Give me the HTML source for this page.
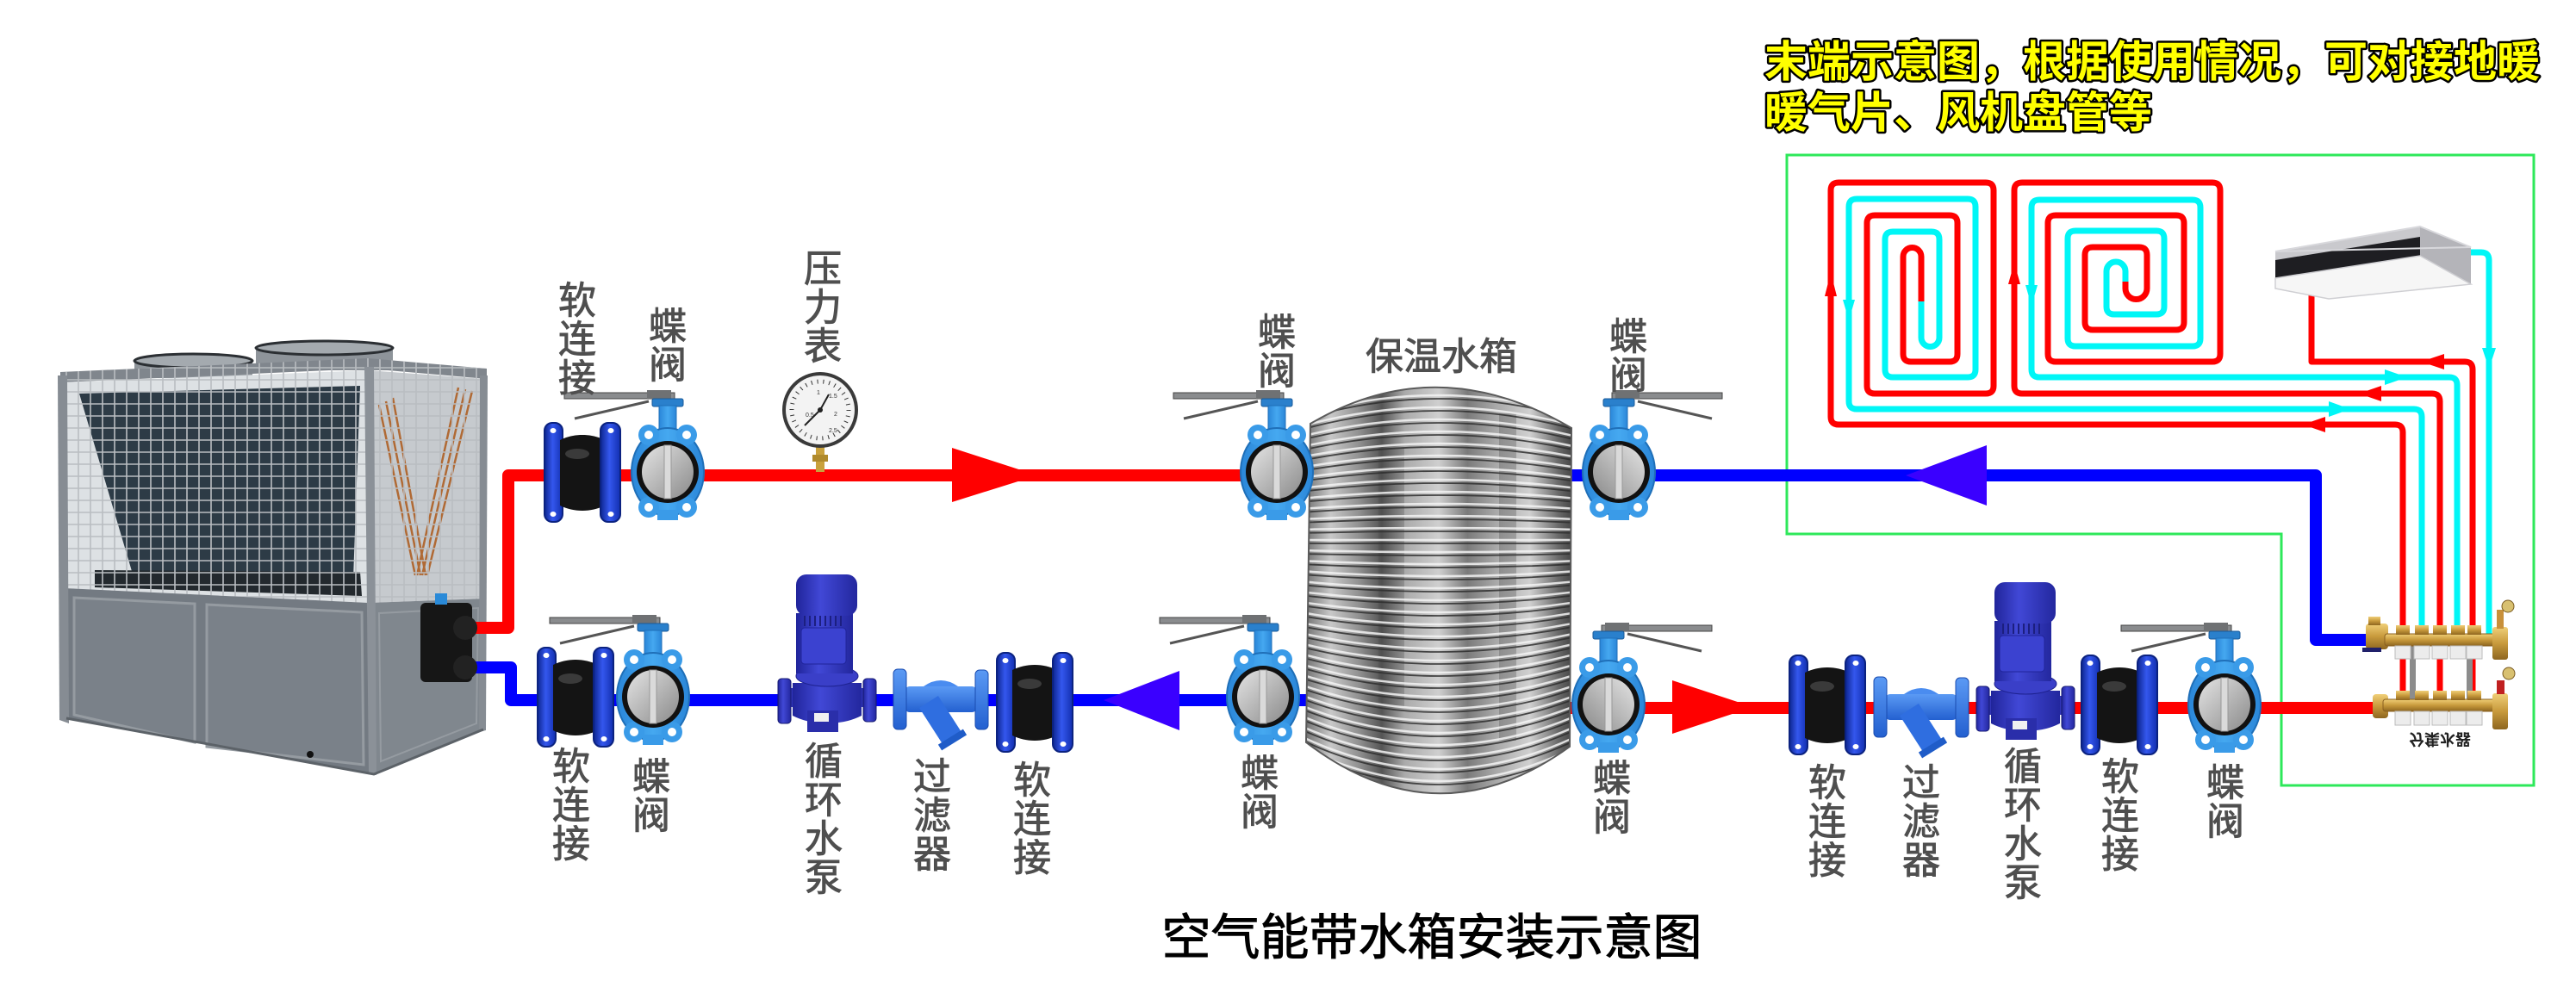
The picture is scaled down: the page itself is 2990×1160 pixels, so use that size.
<!DOCTYPE html>
<html><head><meta charset="utf-8">
<style>
html,body{margin:0;padding:0;background:#fff;}
svg{display:block;}
text{font-family:"Liberation Sans","Noto Sans CJK SC",sans-serif;}
</style></head><body>
<svg width="2990" height="1160" viewBox="0 0 2990 1160" xmlns="http://www.w3.org/2000/svg">
<defs>
 <linearGradient id="disc" x1="0" y1="0" x2="1" y2="1"><stop offset="0" stop-color="#e4e4e4"/><stop offset="1" stop-color="#8a8a8a"/></linearGradient>
 <linearGradient id="flg" x1="0" x2="1"><stop offset="0" stop-color="#0d2690"/><stop offset=".45" stop-color="#3457ee"/><stop offset="1" stop-color="#122fb0"/></linearGradient>
 <linearGradient id="pumpg" x1="0" x2="1"><stop offset="0" stop-color="#20249a"/><stop offset=".4" stop-color="#4148d6"/><stop offset="1" stop-color="#23279e"/></linearGradient>
 <linearGradient id="stg" x1="0" x2="0" y1="0" y2="1"><stop offset="0" stop-color="#5b9af4"/><stop offset="1" stop-color="#2360d0"/></linearGradient>
 <linearGradient id="brass" x1="0" x2="0" y1="0" y2="1"><stop offset="0" stop-color="#f0cf78"/><stop offset=".5" stop-color="#c89a3c"/><stop offset="1" stop-color="#8e6620"/></linearGradient>
 <linearGradient id="vb" x1="0" x2="1"><stop offset="0" stop-color="#2a86d8"/><stop offset=".5" stop-color="#45a8f0"/><stop offset="1" stop-color="#2a86d8"/></linearGradient>
 <linearGradient id="tankg" x1="0" x2="1">
  <stop offset="0" stop-color="#3a3a3a"/><stop offset=".04" stop-color="#7a7a7a"/><stop offset=".12" stop-color="#c8c8c8"/>
  <stop offset=".22" stop-color="#909090"/><stop offset=".3" stop-color="#555555"/><stop offset=".38" stop-color="#aaaaaa"/>
  <stop offset=".5" stop-color="#cfcfcf"/><stop offset=".6" stop-color="#7a7a7a"/><stop offset=".7" stop-color="#a8a8a8"/>
  <stop offset=".82" stop-color="#d0d0d0"/><stop offset=".92" stop-color="#6a6a6a"/><stop offset="1" stop-color="#2e2e2e"/>
 </linearGradient>
 <pattern id="mesh" width="14" height="14" patternUnits="userSpaceOnUse"><path d="M0 7H14M7 0V14" stroke="#b9bdc1" stroke-width="1.6" fill="none"/></pattern>
 <clipPath id="tankclip"><path d="M1521 492 Q1668 405 1824 497 L1822 867 Q1668 978 1516 862 Z"/></clipPath>

 <g id="bv">
  <rect x="-120" y="-96" width="128" height="7" fill="#8a8c8e" stroke="#444" stroke-width="1"/>
  <line x1="-108" y1="-66" x2="-22" y2="-86" stroke="#555" stroke-width="3"/>
  <rect x="-24" y="-99" width="28" height="10" fill="#6f7173"/>
  <rect x="-18" y="-89" width="36" height="9" rx="2" fill="#2a80cc" stroke="#1a5a99"/>
  <rect x="-10" y="-81" width="20" height="32" fill="url(#vb)" stroke="#1f6fb8"/>
  <ellipse cx="0" cy="-4" rx="42" ry="51" fill="url(#vb)" stroke="#1f6fb8" stroke-width="2"/>
  <circle cx="-22" cy="-47" r="12" fill="#3a9be8"/><circle cx="22" cy="-47" r="12" fill="#3a9be8"/>
  <circle cx="-22" cy="37" r="12" fill="#3a9be8"/><circle cx="22" cy="37" r="12" fill="#3a9be8"/>
  <circle cx="-22" cy="-47" r="5" fill="#fff"/><circle cx="22" cy="-47" r="5" fill="#fff"/>
  <circle cx="-22" cy="37" r="5" fill="#fff"/><circle cx="22" cy="37" r="5" fill="#fff"/>
  <rect x="-12" y="40" width="24" height="12" fill="#3a9be8"/>
  <circle cx="0" cy="-4" r="36" fill="#111"/>
  <ellipse cx="0" cy="-4" rx="30" ry="31" fill="url(#disc)"/>
  <rect x="-4" y="-35" width="8" height="62" fill="#dadada" stroke="#999"/>
 </g>

 <g id="sc">
  <rect x="-44" y="-58" width="21" height="115" rx="9" fill="url(#flg)" stroke="#0b2280" stroke-width="2"/>
  <path d="M-26 -38 C-10 -46 10 -46 26 -38 L26 38 C10 46 -10 46 -26 38 Z" fill="#141414"/>
  <ellipse cx="-6" cy="-22" rx="14" ry="6" fill="#5a5a5a" opacity=".55"/>
  <rect x="21" y="-58" width="23" height="115" rx="9" fill="url(#flg)" stroke="#0b2280" stroke-width="2"/>
  <ellipse cx="-34" cy="-49" rx="3.5" ry="3" fill="#fff"/><ellipse cx="33" cy="-49" rx="3.5" ry="3" fill="#fff"/>
  <ellipse cx="-34" cy="48" rx="3.5" ry="3" fill="#fff"/><ellipse cx="33" cy="48" rx="3.5" ry="3" fill="#fff"/>
 </g>

 <g id="pump">
  <rect x="-45" y="-14" width="90" height="22" fill="#3034b8"/>
  <rect x="-57" y="-25" width="15" height="52" rx="4" fill="url(#pumpg)" stroke="#161a70"/>
  <rect x="42" y="-25" width="15" height="50" rx="4" fill="url(#pumpg)" stroke="#161a70"/>
  <path d="M-40 -20 H40 V18 Q20 28 0 26 Q-20 28 -40 18 Z" fill="url(#pumpg)"/>
  <rect x="-23" y="12" width="36" height="25" fill="#2a2eaa"/>
  <rect x="-15" y="15" width="17" height="10" fill="#f0f0f0"/>
  <ellipse cx="0" cy="-28" rx="36" ry="12" fill="#3a3fc8" stroke="#1e2290"/>
  <rect x="-36" y="-101" width="66" height="70" fill="url(#pumpg)"/>
  <path d="M-26 -98V-86M-20 -98V-86M-14 -98V-86M-8 -98V-86M-2 -98V-86M4 -98V-86M10 -98V-86M16 -98V-86" stroke="#1c1f80" stroke-width="2"/>
  <rect x="-30" y="-84" width="52" height="42" rx="4" fill="#3b42d0" stroke="#20249a"/>
  <rect x="-36" y="-146" width="71" height="48" rx="12" fill="url(#pumpg)"/>
 </g>

 <g id="st">
  <rect x="-42" y="-16" width="84" height="30" rx="6" fill="url(#stg)"/>
  <path d="M-20 -16 Q0 -30 20 -16 Z" fill="#4a8cf0"/>
  <line x1="-14" y1="2" x2="13" y2="44" stroke="#2f6ee0" stroke-width="26"/>
  <line x1="28" y1="37" x2="-1" y2="55" stroke="#1f5cc8" stroke-width="8"/>
  <rect x="-55" y="-36" width="15" height="70" rx="5" fill="url(#stg)" stroke="#1a4cb0"/>
  <rect x="40" y="-35" width="15" height="69" rx="5" fill="url(#stg)" stroke="#1a4cb0"/>
 </g>

 <g id="tl" fill="none">
  <path d="M1510 483Q1670 435 1830 483"/>
  <path d="M1510 495Q1670 451 1830 495"/><path d="M1510 507Q1670 467 1830 507"/><path d="M1510 519Q1670 483 1830 519"/>
  <path d="M1510 531Q1670 499 1830 531"/><path d="M1510 543Q1670 515 1830 543"/><path d="M1510 555Q1670 531 1830 555"/>
  <path d="M1510 567Q1670 547 1830 567"/><path d="M1510 579Q1670 563 1830 579"/><path d="M1510 591Q1670 579 1830 591"/>
  <path d="M1510 603Q1670 595 1830 603"/><path d="M1510 615Q1670 611 1830 615"/><path d="M1510 627Q1670 627 1830 627"/>
  <path d="M1510 639Q1670 643 1830 639"/><path d="M1510 651Q1670 659 1830 651"/><path d="M1510 663Q1670 675 1830 663"/>
  <path d="M1510 675Q1670 691 1830 675"/><path d="M1510 687Q1670 707 1830 687"/><path d="M1510 699Q1670 723 1830 699"/>
  <path d="M1510 711Q1670 739 1830 711"/><path d="M1510 723Q1670 755 1830 723"/><path d="M1510 735Q1670 771 1830 735"/>
  <path d="M1510 747Q1670 787 1830 747"/><path d="M1510 759Q1670 803 1830 759"/><path d="M1510 771Q1670 819 1830 771"/>
  <path d="M1510 783Q1670 835 1830 783"/><path d="M1510 795Q1670 851 1830 795"/><path d="M1510 807Q1670 867 1830 807"/>
  <path d="M1510 819Q1670 883 1830 819"/><path d="M1510 831Q1670 899 1830 831"/><path d="M1510 843Q1670 915 1830 843"/>
  <path d="M1510 855Q1670 931 1830 855"/><path d="M1510 867Q1670 947 1830 867"/>
 </g>
</defs>

<rect width="2990" height="1160" fill="#fff"/>

<!-- ===== HEAT PUMP UNIT ===== -->
<g>
 <rect x="156" y="419" width="137" height="20" fill="#8e949a"/>
 <ellipse cx="224.5" cy="419" rx="68.5" ry="8" fill="#a4aaaf" stroke="#2b2f33" stroke-width="3"/>
 <rect x="297" y="404" width="159" height="26" fill="#8e949a"/>
 <ellipse cx="376.5" cy="404" rx="79.5" ry="8" fill="#a4aaaf" stroke="#2b2f33" stroke-width="3"/>
 <polygon points="70,432 427,416 565,428 565,440 427,428 70,444" fill="#80868d"/>
 <polygon points="72,444 427,430 428,700 75,683" fill="#dde1e4"/>
 <polygon points="92,457 418,448 410,672 155,670" fill="#2d3b46"/>
 <polygon points="110,662 418,664 420,692 110,682" fill="#23292e"/>
 <polygon points="427,430 563,440 563,695 428,700" fill="#c6cace"/>
 <path d="M440 470L482 668M448 466L488 668M456 462L494 668M540 452L490 668M548 454L496 668M532 450L484 668" stroke="#b06a35" stroke-width="2.5"/>
 <polygon points="70,432 427,416 565,428 563,695 428,700 75,683" fill="url(#mesh)"/>
 <polygon points="75,683 428,700 434,899 77,834" fill="#737a82"/>
 <polygon points="86,694 226,701 226,862 86,830" fill="#7a8189" stroke="#959ba1" stroke-width="3"/>
 <polygon points="240,702 420,711 422,888 240,867" fill="#7a8189" stroke="#959ba1" stroke-width="3"/>
 <polygon points="428,700 563,695 561,847 434,899" fill="#80878e"/>
 <polygon points="440,712 555,706 553,840 442,884" fill="none" stroke="#959ba1" stroke-width="2"/>
 <polygon points="67,436 78,436 80,840 69,836" fill="#868c93"/>
 <polygon points="423,426 434,426 437,900 428,898" fill="#8b9198"/>
 <polygon points="557,436 566,436 564,848 556,850" fill="#868c93"/>
 <path d="M77 834L434 899L561 847" stroke="#5c6268" stroke-width="3" fill="none"/>
 <circle cx="360" cy="876" r="4" fill="#111"/>
 <rect x="488" y="700" width="60" height="92" rx="6" fill="#161616"/>
 <rect x="505" y="689" width="14" height="13" fill="#2a8ad8"/>
</g>

<!-- ===== GREEN BOX ===== -->
<path d="M2074 180H2941V912H2648V620H2074Z" fill="none" stroke="#2ee85a" stroke-width="3"/>

<!-- ===== MAIN PIPES ===== -->
<g fill="none" stroke-width="14" stroke-linejoin="round">
 <path d="M542 729H590V552H1525" stroke="#ff0000"/>
 <path d="M540 775H593V813H1525" stroke="#0000ff"/>
 <path d="M1818 552H2688V743H2752" stroke="#0000ff"/>
 <path d="M1818 822H2756" stroke="#ff0000"/>
</g>
<circle cx="540" cy="729" r="14" fill="#222"/>
<circle cx="540" cy="775" r="14" fill="#222"/>

<!-- arrows -->
<polygon points="1105,520 1105,583 1204,552" fill="#ff0000"/>
<polygon points="1369,779 1369,848 1281,813" fill="#3a00ff"/>
<polygon points="2306,517 2306,587 2212,552" fill="#3a00ff"/>
<polygon points="1941,790 1941,852 2035,821" fill="#ff0000"/>

<!-- ===== FLOOR HEATING COILS ===== -->
<g fill="none" stroke-width="7" stroke-linejoin="round">
 <path stroke="#ff0000" d="M2789 815V502Q2789 493 2780 493H2134Q2125 493 2125 484V221Q2125 212 2134 212H2305Q2314 212 2314 221V448Q2314 457 2305 457H2176Q2167 457 2167 448V259Q2167 250 2176 250H2263Q2272 250 2272 259V411Q2272 420 2263 420H2218Q2209 420 2209 411V298A10.5 10.5 0 0 1 2230 298V350"/>
 <path stroke="#00f6f6" d="M2230 350V392A10.5 10.5 0 0 0 2251 392V278Q2251 269 2242 269H2197Q2188 269 2188 278V429Q2188 438 2197 438H2284Q2293 438 2293 429V240Q2293 231 2284 231H2155Q2146 231 2146 240V466Q2146 475 2155 475H2802Q2811 475 2811 484V740"/>
 <path stroke="#ff0000" d="M2832 815V466Q2832 457 2823 457H2347Q2338 457 2338 448V221Q2338 212 2347 212H2568Q2577 212 2577 221V411Q2577 420 2568 420H2386Q2377 420 2377 411V259Q2377 250 2386 250H2526Q2535 250 2535 259V374Q2535 383 2526 383H2429Q2420 383 2420 374V296Q2420 287 2429 287H2483Q2492 287 2492 296V335A12.5 12.5 0 0 1 2467 335V327"/>
 <path stroke="#00f6f6" d="M2467 327V315A11 11 0 0 0 2445 315V356Q2445 365 2454 365H2503Q2512 365 2512 356V277Q2512 268 2503 268H2409Q2400 268 2400 277V393Q2400 402 2409 402H2545Q2554 402 2554 393V241Q2554 232 2545 232H2367Q2358 232 2358 241V429Q2358 438 2367 438H2843Q2852 438 2852 447V740"/>
 <path stroke="#ff0000" d="M2870 815V429Q2870 420 2861 420H2683V340"/>
 <path stroke="#00f6f6" d="M2864 293H2880Q2889 293 2889 302V740"/>
</g>
<g>
 <polygon points="2125,316 2118,344 2132,344" fill="#ff0000"/>
 <polygon points="2146,372 2139,348 2153,348" fill="#00f6f6"/>
 <polygon points="2338,305 2331,330 2345,330" fill="#ff0000"/>
 <polygon points="2358,355 2351,331 2365,331" fill="#00f6f6"/>
 <polygon points="2810,420 2837,411 2837,429" fill="#ff0000"/>
 <polygon points="2794,438 2768,429 2768,447" fill="#00f6f6"/>
 <polygon points="2738,457 2764,448 2764,466" fill="#ff0000"/>
 <polygon points="2728,475 2703,466 2703,484" fill="#00f6f6"/>
 <polygon points="2673,493 2699,484 2699,502" fill="#ff0000"/>
 <polygon points="2889,428 2881,404 2897,404" fill="#00f6f6"/>
</g>

<!-- fan coil unit -->
<g>
 <polygon points="2641,292 2809,263 2868,287 2868,330 2809,297 2641,323" fill="#c9c9cd"/>
 <polygon points="2809,263 2868,287 2868,330 2809,297" fill="#b4b4b9"/>
 <polygon points="2641,302 2809,275 2809,297 2641,323" fill="#1e1e22"/>
 <polygon points="2641,323 2809,297 2868,330 2703,347 2641,335" fill="#f6f6f6" stroke="#cfcfd3" stroke-width="1.5"/>
 <polygon points="2641,292 2809,263 2868,287" fill="none" stroke="#d8d8dc" stroke-width="2"/>
</g>

<!-- manifold -->
<g>
 <rect x="2797" y="745" width="7" height="80" fill="#8c8c8c"/>
 <rect x="2863" y="745" width="7" height="80" fill="#8c8c8c"/>
 <rect x="2746" y="724" width="26" height="30" rx="4" fill="url(#brass)"/>
 <rect x="2749" y="716" width="14" height="10" fill="url(#brass)"/>
 <rect x="2742" y="752" width="22" height="5" fill="#20206a"/>
 <rect x="2768" y="736" width="130" height="14" rx="3" fill="url(#brass)" stroke="#8a6020"/>
 <g fill="url(#brass)">
  <rect x="2781" y="726" width="16" height="11"/><rect x="2803" y="726" width="16" height="11"/>
  <rect x="2824" y="726" width="16" height="11"/><rect x="2845" y="726" width="16" height="11"/>
  <rect x="2864" y="726" width="16" height="11"/>
 </g>
 <g fill="#ececec" stroke="#bbb">
  <rect x="2780" y="750" width="18" height="15"/><rect x="2802" y="750" width="18" height="15"/>
  <rect x="2823" y="750" width="18" height="15"/><rect x="2844" y="750" width="18" height="15"/>
  <rect x="2863" y="750" width="18" height="15"/>
 </g>
 <rect x="2893" y="728" width="18" height="38" rx="3" fill="url(#brass)"/>
 <rect x="2898" y="708" width="8" height="22" fill="#c8903a"/>
 <circle cx="2911" cy="704" r="7" fill="#d8c070" stroke="#7a5a20"/>
 <rect x="2754" y="806" width="18" height="28" rx="4" fill="url(#brass)"/>
 <rect x="2766" y="812" width="132" height="14" rx="3" fill="url(#brass)" stroke="#8a6020"/>
 <g fill="url(#brass)">
  <rect x="2781" y="802" width="16" height="11"/><rect x="2803" y="802" width="16" height="11"/>
  <rect x="2824" y="802" width="16" height="11"/><rect x="2845" y="802" width="16" height="11"/>
  <rect x="2864" y="802" width="16" height="11"/>
 </g>
 <g fill="#ececec" stroke="#bbb">
  <rect x="2780" y="826" width="18" height="16"/><rect x="2802" y="826" width="18" height="16"/>
  <rect x="2823" y="826" width="18" height="16"/><rect x="2844" y="826" width="18" height="16"/>
  <rect x="2863" y="826" width="18" height="16"/>
 </g>
 <rect x="2893" y="805" width="18" height="42" rx="3" fill="url(#brass)"/>
 <rect x="2898" y="790" width="9" height="16" fill="#c02020"/>
 <circle cx="2912" cy="782" r="7" fill="#d8c070" stroke="#7a5a20"/>
 <text transform="translate(2832,852) scale(1,-1)" text-anchor="middle" font-size="18" font-weight="bold" fill="#222">分集水器</text>
</g>

<!-- ===== TANK ===== -->
<g clip-path="url(#tankclip)">
 <rect x="1505" y="400" width="330" height="590" fill="url(#tankg)"/>
 <rect x="1600" y="520" width="30" height="300" fill="#444" opacity=".25"/>
 <rect x="1740" y="480" width="20" height="380" fill="#333" opacity=".25"/>
 <use href="#tl" stroke="#2e2e2e" stroke-width="1.8" opacity=".85" transform="translate(0,4)"/>
 <use href="#tl" stroke="#f4f4f4" stroke-width="2.5" opacity=".85"/>
</g>
<path d="M1521 492 Q1668 405 1824 497 L1822 867 Q1668 978 1516 862 Z" fill="none" stroke="#5a5a5a" stroke-width="2"/>

<!-- ===== COMPONENTS ===== -->
<use href="#sc" transform="translate(676,549)"/>
<use href="#bv" transform="translate(775,552)"/>
<use href="#bv" transform="translate(1482,552)"/>
<use href="#bv" transform="translate(1879,552) scale(-1,1)"/>
<use href="#sc" transform="translate(668,810)"/>
<use href="#bv" transform="translate(758,813)"/>
<use href="#pump" transform="translate(960,813)"/>
<use href="#st" transform="translate(1092,813)"/>
<use href="#sc" transform="translate(1201,816)"/>
<use href="#bv" transform="translate(1466,813)"/>
<use href="#bv" transform="translate(1867,822) scale(-1,1)"/>
<use href="#sc" transform="translate(2121,819)"/>
<use href="#st" transform="translate(2230,822)"/>
<use href="#pump" transform="translate(2351,822)"/>
<use href="#sc" transform="translate(2460,819)"/>
<use href="#bv" transform="translate(2582,822)"/>

<!-- pressure gauge -->
<g>
 <rect x="947" y="518" width="10" height="30" fill="#c9a13c"/>
 <rect x="943" y="528" width="18" height="8" fill="#b08a2c"/>
 <circle cx="952" cy="476" r="44" fill="#3a3a3a"/>
 <circle cx="952" cy="476" r="40" fill="#f3f3f3"/>
 <circle cx="952" cy="476" r="33" fill="none" stroke="#333" stroke-width="5" stroke-dasharray="1 5.9"/>
 <line x1="952" y1="476" x2="934" y2="494" stroke="#222" stroke-width="2"/>
 <line x1="952" y1="476" x2="962" y2="458" stroke="#222" stroke-width="2"/>
 <circle cx="952" cy="476" r="3" fill="#222"/>
 <text x="935" y="484" font-size="7" fill="#333">0.5</text>
 <text x="948" y="458" font-size="7" fill="#333">1</text>
 <text x="962" y="462" font-size="7" fill="#333">1.5</text>
 <text x="968" y="483" font-size="7" fill="#333">2</text>
 <text x="962" y="502" font-size="7" fill="#333">2.5</text>
</g>

<!-- ===== LABELS ===== -->
<g fill="#4f4f4f" stroke="#4f4f4f" stroke-width="0.9" font-size="44" text-anchor="middle">
 <text x="670" y="364"><tspan x="670">软</tspan><tspan x="670" dy="45">连</tspan><tspan x="670" dy="45">接</tspan></text>
 <text x="775" y="394"><tspan x="775">蝶</tspan><tspan x="775" dy="45">阀</tspan></text>
 <text x="955" y="327"><tspan x="955">压</tspan><tspan x="955" dy="45">力</tspan><tspan x="955" dy="45">表</tspan></text>
 <text x="1482" y="401"><tspan x="1482">蝶</tspan><tspan x="1482" dy="45">阀</tspan></text>
 <text x="1673" y="429">保温水箱</text>
 <text x="1890" y="406"><tspan x="1890">蝶</tspan><tspan x="1890" dy="45">阀</tspan></text>
 <text x="663" y="905"><tspan x="663">软</tspan><tspan x="663" dy="45">连</tspan><tspan x="663" dy="45">接</tspan></text>
 <text x="756" y="917"><tspan x="756">蝶</tspan><tspan x="756" dy="45">阀</tspan></text>
 <text x="956" y="899"><tspan x="956">循</tspan><tspan x="956" dy="45">环</tspan><tspan x="956" dy="45">水</tspan><tspan x="956" dy="45">泵</tspan></text>
 <text x="1082" y="917"><tspan x="1082">过</tspan><tspan x="1082" dy="45">滤</tspan><tspan x="1082" dy="45">器</tspan></text>
 <text x="1198" y="921"><tspan x="1198">软</tspan><tspan x="1198" dy="45">连</tspan><tspan x="1198" dy="45">接</tspan></text>
 <text x="1462" y="913"><tspan x="1462">蝶</tspan><tspan x="1462" dy="45">阀</tspan></text>
 <text x="1871" y="919"><tspan x="1871">蝶</tspan><tspan x="1871" dy="45">阀</tspan></text>
 <text x="2121" y="924"><tspan x="2121">软</tspan><tspan x="2121" dy="45">连</tspan><tspan x="2121" dy="45">接</tspan></text>
 <text x="2230" y="924"><tspan x="2230">过</tspan><tspan x="2230" dy="45">滤</tspan><tspan x="2230" dy="45">器</tspan></text>
 <text x="2348" y="905"><tspan x="2348">循</tspan><tspan x="2348" dy="45">环</tspan><tspan x="2348" dy="45">水</tspan><tspan x="2348" dy="45">泵</tspan></text>
 <text x="2461" y="917"><tspan x="2461">软</tspan><tspan x="2461" dy="45">连</tspan><tspan x="2461" dy="45">接</tspan></text>
 <text x="2583" y="924"><tspan x="2583">蝶</tspan><tspan x="2583" dy="45">阀</tspan></text>
</g>

<text x="1662" y="1108" font-size="57" text-anchor="middle" fill="#000" stroke="#000" stroke-width="1">空气能带水箱安装示意图</text>

<g font-size="50" font-weight="bold" fill="#ffff00" stroke="#000" stroke-width="5" paint-order="stroke" stroke-linejoin="round">
 <text x="2048" y="89">末端示意图，根据使用情况，可对接地暖</text>
 <text x="2048" y="148">暖气片、风机盘管等</text>
</g>
</svg>
</body></html>
